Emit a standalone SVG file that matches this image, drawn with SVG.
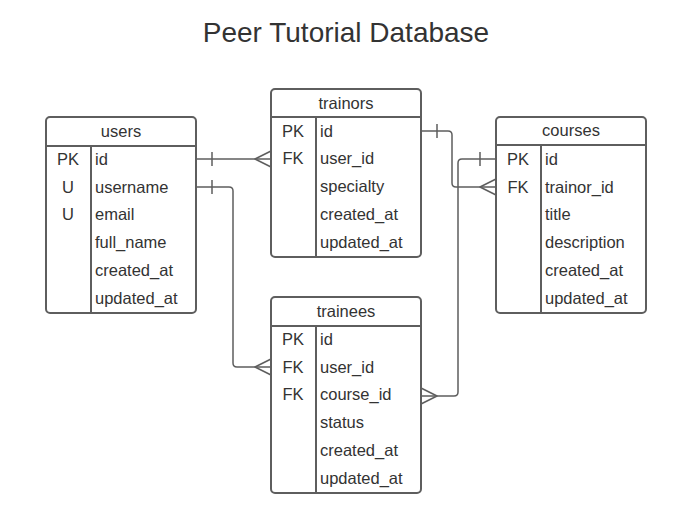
<svg xmlns="http://www.w3.org/2000/svg" width="697" height="506" viewBox="0 0 697 506">
<style>
.box{fill:#fff;stroke:#5e5e5e;stroke-width:2}
.ln{stroke:#5e5e5e;stroke-width:2;fill:none}
.cn{stroke:#5e5e5e;stroke-width:1.5;fill:none;stroke-linejoin:round}
text{font-family:"Liberation Sans",Arial,sans-serif;font-size:16.5px;fill:#333;dominant-baseline:central}
.h{text-anchor:middle}
.k{text-anchor:middle}
.title{font-size:28px;text-anchor:middle}
</style>
<rect width="697" height="506" fill="#fff"/>
<text class="title" x="346" y="32">Peer Tutorial Database</text>

<g id="connectors">
  <!-- users.id -> trainors.user_id -->
  <path class="cn" d="M196,159 H271"/>
  <path class="cn" d="M212,152 V166"/>
  <path class="cn" d="M271,151 L255,159 L271,167"/>
  <!-- users.username -> trainees.user_id -->
  <path class="cn" d="M196,187 H229 Q233,187 233,191 V363 Q233,367 237,367 H271"/>
  <path class="cn" d="M212,180 V194"/>
  <path class="cn" d="M271,359 L255,367 L271,375"/>
  <!-- trainors.id -> courses.trainor_id -->
  <path class="cn" d="M421,131 H448 Q452,131 452,135 V183 Q452,187 456,187 H496"/>
  <path class="cn" d="M437,124 V138"/>
  <path class="cn" d="M496,179 L480,187 L496,195"/>
  <!-- courses.id -> trainees.course_id -->
  <path class="cn" d="M496,159 H462 Q458,159 458,163 V392 Q458,396 454,396 H421"/>
  <path class="cn" d="M480,152 V166"/>
  <path class="cn" d="M421,388 L437,396 L421,404"/>
</g>

<g id="users">
  <rect class="box" x="46" y="117" width="150" height="196" rx="4"/>
  <path class="ln" d="M46,146 H196 M91,146 V313"/>
  <text class="h" x="121" y="131">users</text>
  <text class="k" x="68" y="159">PK</text>
  <text class="k" x="68" y="187">U</text>
  <text class="k" x="68" y="214">U</text>
  <text x="95" y="159">id</text>
  <text x="95" y="187">username</text>
  <text x="95" y="214">email</text>
  <text x="95" y="242">full_name</text>
  <text x="95" y="270">created_at</text>
  <text x="95" y="298">updated_at</text>
</g>

<g id="trainors">
  <rect class="box" x="271" y="89" width="150" height="168" rx="4"/>
  <path class="ln" d="M271,117 H421 M316,117 V257"/>
  <text class="h" x="346" y="103">trainors</text>
  <text class="k" x="293" y="131">PK</text>
  <text class="k" x="293" y="158">FK</text>
  <text x="320" y="131">id</text>
  <text x="320" y="158">user_id</text>
  <text x="320" y="186">specialty</text>
  <text x="320" y="214">created_at</text>
  <text x="320" y="242">updated_at</text>
</g>

<g id="courses">
  <rect class="box" x="496" y="117" width="150" height="196" rx="4"/>
  <path class="ln" d="M496,145 H646 M541,145 V313"/>
  <text class="h" x="571" y="130">courses</text>
  <text class="k" x="518" y="159">PK</text>
  <text class="k" x="518" y="187">FK</text>
  <text x="545" y="159">id</text>
  <text x="545" y="187">trainor_id</text>
  <text x="545" y="214">title</text>
  <text x="545" y="242">description</text>
  <text x="545" y="270">created_at</text>
  <text x="545" y="298">updated_at</text>
</g>

<g id="trainees">
  <rect class="box" x="271" y="297" width="150" height="196" rx="4"/>
  <path class="ln" d="M271,326 H421 M316,326 V493"/>
  <text class="h" x="346" y="311">trainees</text>
  <text class="k" x="293" y="339">PK</text>
  <text class="k" x="293" y="367">FK</text>
  <text class="k" x="293" y="394">FK</text>
  <text x="320" y="339">id</text>
  <text x="320" y="367">user_id</text>
  <text x="320" y="394">course_id</text>
  <text x="320" y="422">status</text>
  <text x="320" y="450">created_at</text>
  <text x="320" y="478">updated_at</text>
</g>
</svg>
